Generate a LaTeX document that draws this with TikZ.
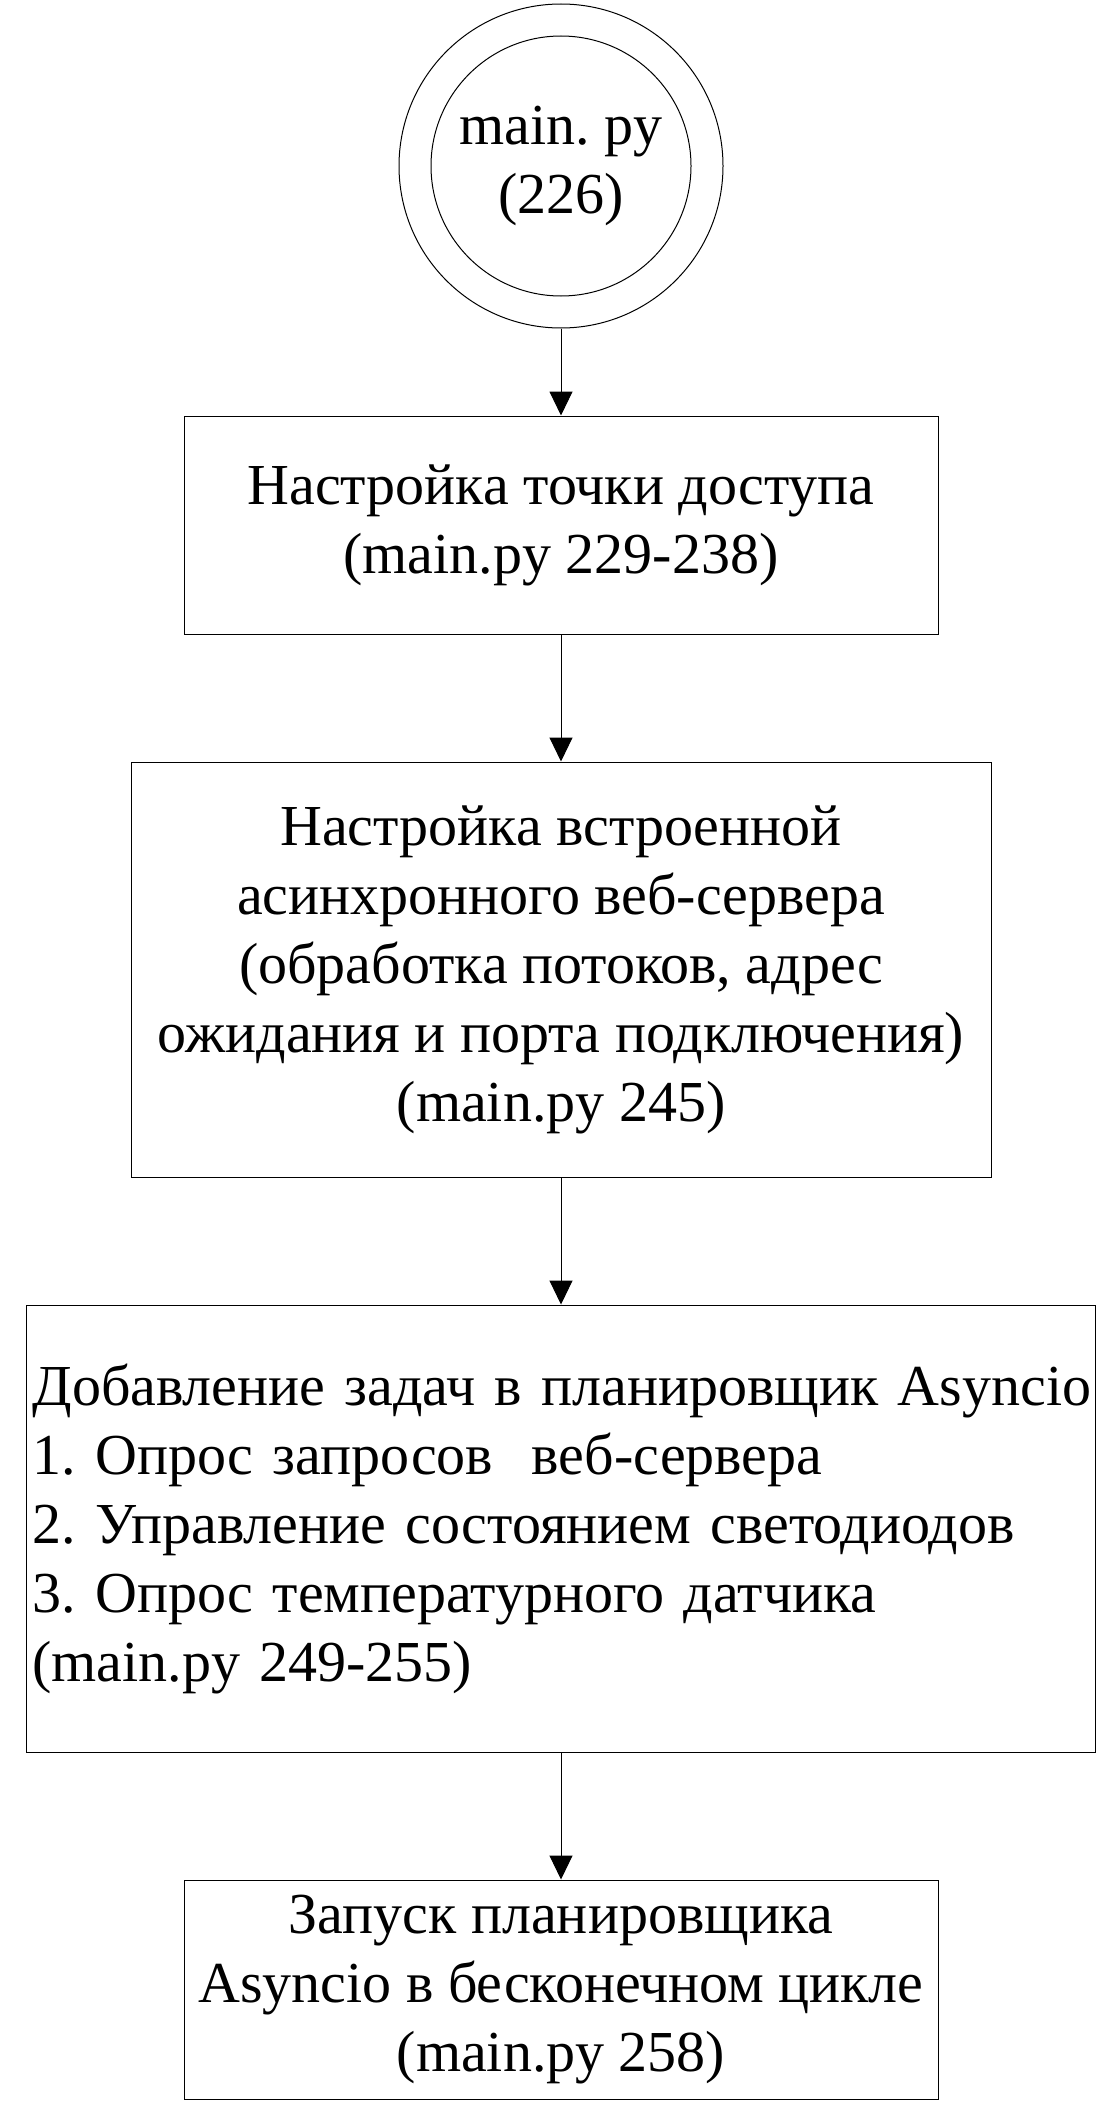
\documentclass[tikz,border=0pt]{standalone}
\usepackage{fontspec}
\setmainfont{Liberation Serif}
\usetikzlibrary{arrows.meta}
\begin{document}
\frenchspacing
\begin{tikzpicture}[x=1pt,y=-1pt,
  every node/.style={font=\fontsize{58pt}{69pt}\selectfont\frenchspacing, inner sep=0pt, line width=1pt},
  stepbox/.style={draw, rectangle, align=center},
  ring/.style={draw, circle},
  arr/.style={draw, line width=1pt, -{Triangle[length=24pt,width=23pt]}}]
\useasboundingbox (0,0) rectangle (1106,2122);
\fill[white] (0,0) rectangle (1106,2122);
\node[ring, minimum size=324pt] (c) at (561,166) {};
\node[ring, minimum size=260pt, align=center] (ci) at (561,166) {main. py\\(226)};
\node[stepbox, minimum width=754pt, minimum height=218pt] (b1) at (561,525)
  {Настройка точки доступа\\(main.py 229-238)};
\node[stepbox, minimum width=860pt, minimum height=415pt] (b2) at (561,969.5)
  {Настройка встроенной\\асинхронного веб-сервера\\(обработка потоков, адрес\\ожидания и порта подключения)\\(main.py 245)};
\node[stepbox, minimum width=1069pt, minimum height=447pt, text width=1057pt, align=left] (b3) at (561,1528.5)
  {\mbox{Добавление задач в планировщик Asyncio}\\\mbox{1. Опрос запросов\ \ веб-сервера}\\\mbox{2. Управление состоянием светодиодов}\\\mbox{3. Опрос температурного датчика}\\\mbox{(main.py 249-255)}};
\node[stepbox, minimum width=754pt, minimum height=219pt] (b4) at (561,1989.5)
  {Запуск планировщика\\Asyncio в бесконечном цикле\\(main.py 258)};
\draw[arr] (c) -- (b1);
\draw[arr] (b1) -- (b2);
\draw[arr] (b2) -- (b3);
\draw[arr] (b3) -- (b4);
\end{tikzpicture}
\end{document}
